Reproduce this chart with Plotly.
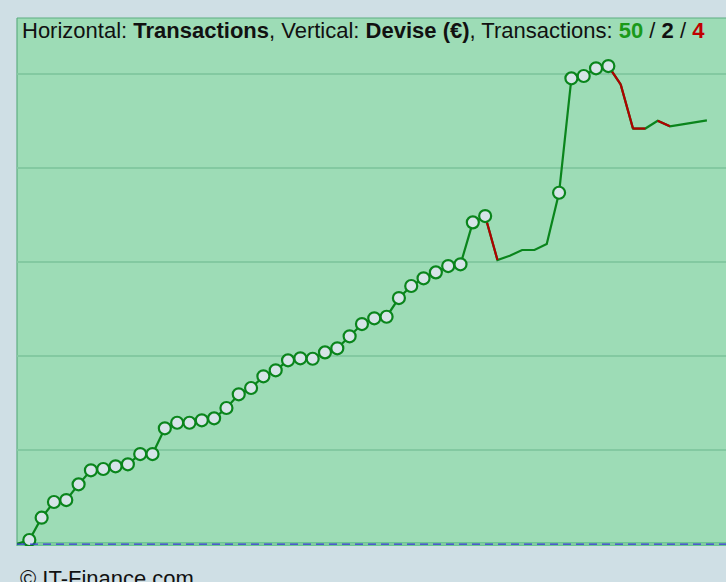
import plotly.graph_objects as go

# Running balance per transaction (index 0 = start), in € (grid step 100)
values = [0, 4.3, 28.0, 44.7, 46.8, 63.5, 78.4, 79.8, 82.7, 84.8,
          95.7, 95.7, 123.1, 129.0, 129.0, 131.6, 133.7, 144.7, 159.3, 166.0,
          178.4, 184.8, 195.4, 197.6, 197.1, 203.9, 208.2, 221.0, 234.0, 240.1,
          241.8, 261.7, 274.5, 282.7, 289.0, 295.7, 297.6, 342.2, 348.9, 302.1,
          306.7, 312.8, 312.8, 319.1, 373.7, 495.4, 497.9, 506.1, 508.5, 489.0,
          442.0, 442.0, 450.3, 444.4, 446.5, 448.6, 450.7]
# transactions drawn with a circle marker
marked = [i for i in range(1, 39)] + [44, 45, 46, 47, 48]
# segments (start index) drawn in red (loss)
red_segments = [38, 48, 49, 50, 52]

GREEN = "#0a851c"
RED = "#b00000"
FONT = "Liberation Sans, Arial, Helvetica, sans-serif"
x_idx = list(range(len(values)))

fig = go.Figure()
fig.add_trace(go.Scatter(x=x_idx, y=values, mode="lines",
                         line=dict(color=GREEN, width=2.2), hoverinfo="skip",
                         showlegend=False))
for s in red_segments:
    fig.add_trace(go.Scatter(x=[s, s + 1], y=[values[s], values[s + 1]],
                             mode="lines", line=dict(color=RED, width=2.2),
                             hoverinfo="skip", showlegend=False))
fig.add_trace(go.Scatter(x=marked, y=[values[i] for i in marked], mode="markers",
                         marker=dict(symbol="circle", size=12, color="#d6e4e8",
                                     line=dict(color=GREEN, width=2.2)),
                         showlegend=False))

# baseline: green solid with blue dashes on top
fig.add_shape(type="line", xref="paper", yref="y", x0=0, x1=1, y0=0, y1=0,
              line=dict(color="#3cb46e", width=3), layer="below")
fig.add_shape(type="line", xref="paper", yref="y", x0=0, x1=1, y0=0, y1=0,
              line=dict(color="#3a3ad8", width=1.2, dash="8px,5px"), layer="above")
# frame: left and top edges
fig.add_shape(type="line", xref="paper", yref="paper", x0=0, x1=0, y0=0, y1=1,
              line=dict(color="#5fae82", width=1.2), layer="below")
fig.add_shape(type="line", xref="paper", yref="paper", x0=0, x1=1, y0=1, y1=1,
              line=dict(color="#5fae82", width=1.2), layer="below")

title = ("Horizontal: <b>Transactions</b>, Vertical: <b>Devise (€)</b>, "
         "Transactions: <b><span style='color:#1a9a1a'>50</span></b> / <b>2</b> / "
         "<b><span style='color:#c00000'>4</span></b>")
fig.add_annotation(text=title, xref="paper", yref="paper", x=0, y=1,
                   xanchor="left", yanchor="top", xshift=3, yshift=2,
                   showarrow=False, font=dict(family=FONT, size=22, color="#111"))
fig.add_annotation(text="© IT-Finance.com", xref="paper", yref="paper", x=0, y=0,
                   xanchor="left", yanchor="top", xshift=1, yshift=-18,
                   showarrow=False, font=dict(family=FONT, size=22, color="#111"))

fig.update_layout(
    width=726, height=582,
    margin=dict(l=17, r=0, t=18, b=36),
    paper_bgcolor="#cfdfe5", plot_bgcolor="#9ddcb6",
    xaxis=dict(range=[0, 57.55], showgrid=False, zeroline=False,
               showticklabels=False, ticks=""),
    yaxis=dict(range=[-2.1, 559.6], dtick=100, showgrid=True, gridcolor="#83c9a1",
               gridwidth=2, zeroline=False, showticklabels=False, ticks=""),
)
fig.write_html("out.html", config={"displayModeBar": False},
               post_script="document.body.style.margin='0';document.body.style.overflow='hidden';")
